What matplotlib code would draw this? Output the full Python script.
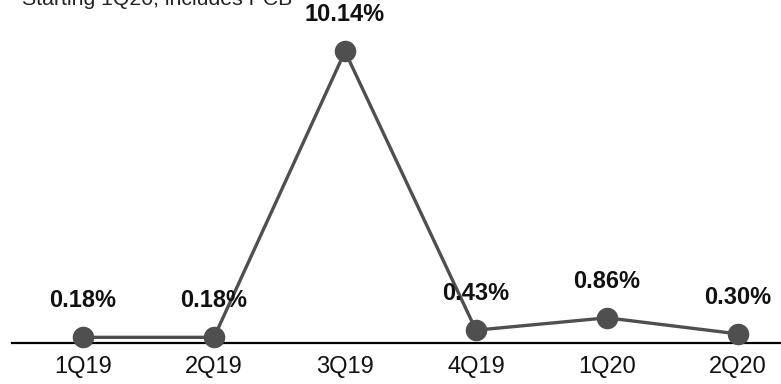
import matplotlib
matplotlib.use("Agg")
import matplotlib.pyplot as plt

categories = ["1Q19", "2Q19", "3Q19", "4Q19", "1Q20", "2Q20"]
values = [0.18, 0.18, 10.14, 0.43, 0.86, 0.30]
labels = ["0.18%", "0.18%", "10.14%", "0.43%", "0.86%", "0.30%"]
subtitle = "Starting 1Q20, includes PCB"

plt.rcParams['font.family'] = ['Liberation Sans', 'DejaVu Sans']

W, H = 781, 384
fig = plt.figure(figsize=(W / 100, H / 100), dpi=100)

x0_px, y0_px = 12, 342.5
ax = fig.add_axes([x0_px / W, (H - y0_px) / H, (W - x0_px) / W, y0_px / H])
step = 131.0
ax.set_xlim(-(83 - x0_px) / step, (W - 83) / step)
ppu = 28.7
ax.set_ylim(0, y0_px / ppu)

xs = list(range(len(categories)))
color = "#4f4f4f"
ax.plot(xs, values, color=color, lw=2.4, marker="o", markersize=14.5,
        markerfacecolor=color, markeredgecolor=color, zorder=3, clip_on=False)

for x, v, lab in zip(xs, values, labels):
    ax.annotate(lab, (x, v), xytext=(0, 18), textcoords="offset points",
                ha="center", va="bottom", fontsize=17, fontweight="bold",
                color="#111111")

for s in ["top", "right", "left"]:
    ax.spines[s].set_visible(False)
ax.spines["bottom"].set_linewidth(1.6)
ax.spines["bottom"].set_color("black")
ax.set_yticks([])
ax.set_xticks(xs)
ax.set_xticklabels(categories, fontsize=17, color="#111111")
ax.tick_params(axis="x", length=0, pad=9.5)
ax.patch.set_alpha(0)

fig.text(22 / W, 1 - 5 / H, subtitle, fontsize=15.3, color="#222222",
         ha="left", va="baseline")

fig.savefig("out.png", dpi=100)
